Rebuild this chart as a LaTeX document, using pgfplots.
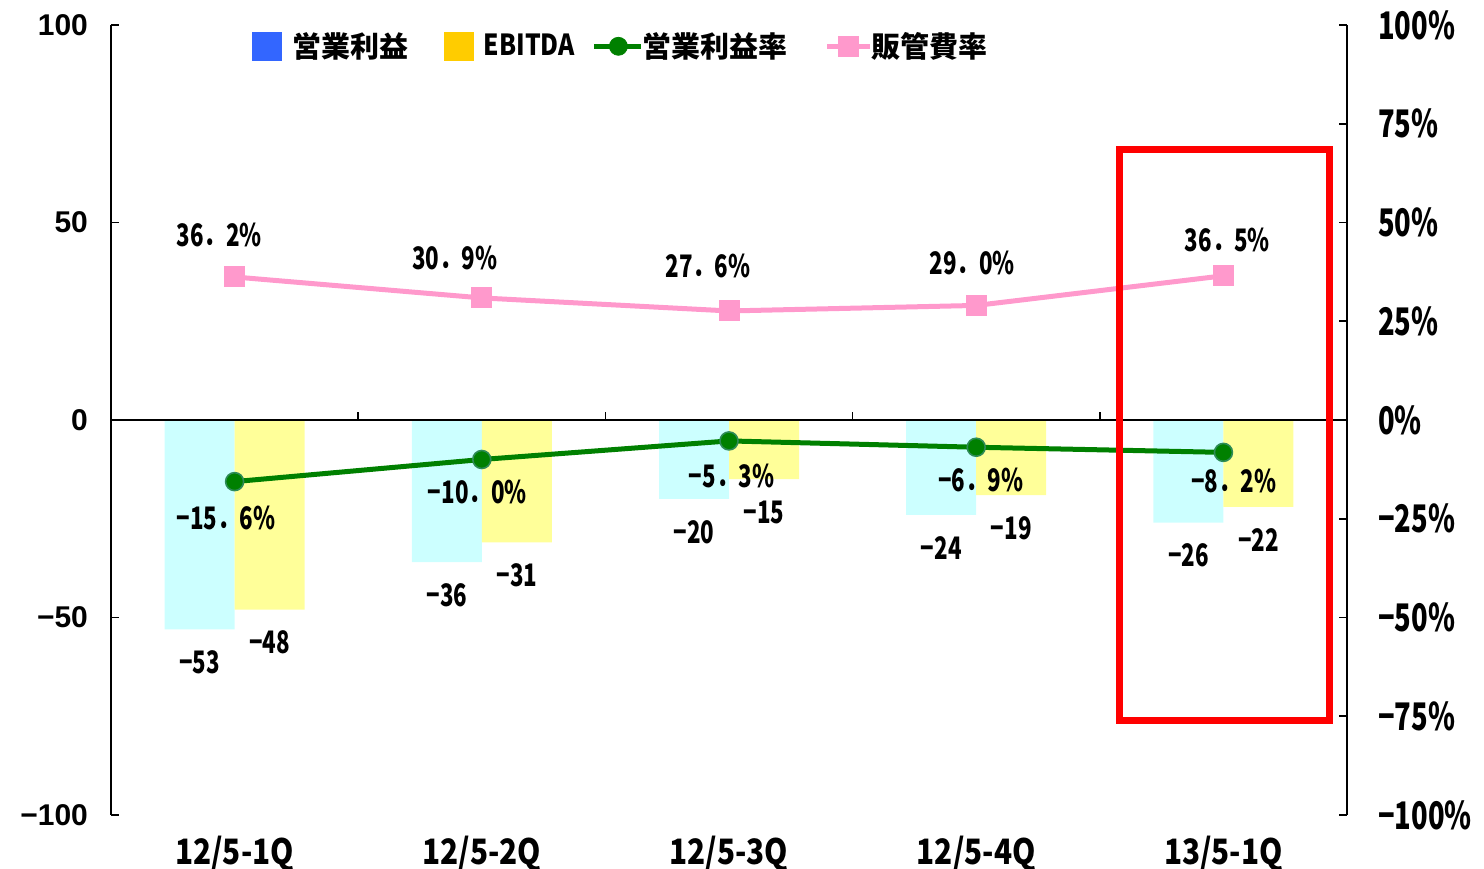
\documentclass[border=0pt]{standalone}
\usepackage{pgfplots}
\pgfplotsset{compat=1.18}
\usepackage{pgfplotstable}
\usepackage{fontspec}
\setmainfont{Noto Sans CJK JP}
\newfontfamily\jp{Noto Sans CJK JP}
\newfontfamily\jpn{Noto Sans CJK JP}[FakeStretch=0.72]
\newfontfamily\jpm{Noto Sans CJK JP}[FakeStretch=0.85]
\newfontfamily\arial{Liberation Sans}
\definecolor{barC}{HTML}{CCFFFF}
\definecolor{barY}{HTML}{FFFF99}
\definecolor{legB}{HTML}{3366FF}
\definecolor{legY}{HTML}{FFCC00}
\definecolor{lineG}{HTML}{008000}
\definecolor{lineGe}{HTML}{2E8B57}
\definecolor{lineP}{HTML}{FF99CC}

\pgfplotstableread{
x op eb lop leb
0 -53 -48 −53 −48
1 -36 -31 −36 −31
2 -20 -15 −20 −15
3 -24 -19 −24 −19
4 -26 -22 −26 −22
}\bars

\pgfplotstableread{
x g lg gdx gdy p lp pdx pdy
0 -15.6 −15．6 -4.25 -18 36.2 36．2 -7.75 21
1 -10.0 −10．0 -2.25 -16 30.9 30．9 -13.5 20
2 -5.3 −5．3 1.25 -17.5 27.6 27．6 -10.5 22.5
3 -6.9 −6．9 2.25 -16.5 29.0 29．0 -2 21
4 -8.2 −8．2 5.25 -14.5 36.5 36．5 2 18
}\rates

\begin{document}
\begin{tikzpicture}
\begin{axis}[name=ax1, scale only axis, width=618pt, height=395pt,
  xmin=-0.5, xmax=4.5, ymin=-100, ymax=100,
  axis y line*=left, axis x line*=bottom, x axis line style={draw=none},
  xtick={0,...,4}, xticklabels={12/5-1Q,12/5-2Q,12/5-3Q,12/5-4Q,13/5-1Q},
  x tick style={draw=none},
  xticklabel style={font=\jpm\bfseries\fontsize{17.5}{17.5}\selectfont, yshift=-3pt},
  ytick={-100,-50,0,50,100}, yticklabels={−100,−50,0,50,100},
  yticklabel style={font=\arial\bfseries\fontsize{15}{15}\selectfont, xshift=-8pt},
  y axis line style={line width=0.8pt},
  y tick style={black, line width=0.8pt}, tick align=inside, major tick length=4pt,
  ybar=0pt, bar width=35pt,
  point meta=explicit symbolic,
  nodes near coords={\pgfplotspointmeta},
  every node near coord/.append style={font=\jpn\bfseries\fontsize{15.5}{15.5}\selectfont, anchor=center, yshift=-16.5pt},
]
\addplot[fill=barC, draw=none] table[x=x, y=op, meta=lop] {\bars};
\addplot[fill=barY, draw=none] table[x=x, y=eb, meta=leb] {\bars};
\draw[black, line width=0.8pt] (axis cs:-0.5,0) -- (axis cs:4.5,0);
\pgfplotsinvokeforeach{0.5,1.5,2.5,3.5}{\draw[black, line width=0.8pt] (axis cs:#1,0) -- ++(0pt,4pt);}
\end{axis}

\begin{axis}[scale only axis, width=618pt, height=395pt,
  xmin=-0.5, xmax=4.5, ymin=-100, ymax=100,
  axis y line*=right, axis x line=none,
  y axis line style={line width=0.8pt},
  ytick={-100,-75,...,100},
  yticklabels={−100\%,−75\%,−50\%,−25\%,0\%,25\%,50\%,75\%,100\%},
  yticklabel style={font=\jpn\bfseries\fontsize{19}{19}\selectfont, xshift=12pt},
  y tick style={black, line width=0.8pt}, tick align=inside, major tick length=4pt,
  legend columns=4,
  legend style={draw=none, fill=none, at={(0.114,0.973)}, anchor=west, inner sep=0pt,
    font=\jp\bfseries\fontsize{14.5}{14.5}\selectfont,
    /tikz/every odd column/.append style={column sep=3pt},
    /tikz/column 2/.style={column sep=16pt},
    /tikz/column 4/.style={column sep=6.5pt},
    /tikz/column 6/.style={column sep=16.5pt}},
]
\addlegendimage{legend image code/.code={\fill[legB] (0pt,-7pt) rectangle (14.5pt,7pt);}}
\addlegendentry{営業利益}
\addlegendimage{legend image code/.code={\fill[legY] (0pt,-7pt) rectangle (14.5pt,7pt);}}
\addlegendentry{{\jpm EBITDA}}
\addlegendimage{legend image code/.code={\draw[lineG, line width=2.5pt] (0pt,0pt) -- (18pt,0pt); \draw[overlay, lineG, line width=2.5pt] (18pt,0pt) -- (23.5pt,0pt); \fill[lineG] (12pt,0pt) circle (4.5pt);}}
\addlegendentry{営業利益率}
\addlegendimage{legend image code/.code={\draw[lineP, line width=2.5pt] (0pt,0pt) -- (16pt,0pt); \draw[overlay, lineP, line width=2.5pt] (16pt,0pt) -- (21.5pt,0pt); \fill[lineP] (5.5pt,-5pt) rectangle (15.5pt,5pt);}}
\addlegendentry{販管費率}

\addplot[forget plot, lineP, line width=2.5pt, mark=square*, mark size=5pt,
  mark options={fill=lineP, draw=lineP, line width=0pt},
  point meta=explicit symbolic,
  visualization depends on={\thisrow{pdx}\as\dx},
  visualization depends on={\thisrow{pdy}\as\dy},
  nodes near coords={\pgfplotspointmeta\%},
  every node near coord/.append style={font=\jpn\bfseries\fontsize{15.5}{15.5}\selectfont, text=black, anchor=center, xshift={\dx pt}, yshift={\dy pt}},
] table[x=x, y=p, meta=lp] {\rates};

\addplot[forget plot, lineG, line width=2.5pt, mark=*, mark size=4.5pt,
  mark options={fill=lineG, draw=lineGe, line width=0.8pt},
  point meta=explicit symbolic,
  visualization depends on={\thisrow{gdx}\as\dx},
  visualization depends on={\thisrow{gdy}\as\dy},
  nodes near coords={\pgfplotspointmeta\%},
  every node near coord/.append style={font=\jpn\bfseries\fontsize{15.5}{15.5}\selectfont, text=black, anchor=center, xshift={\dx pt}, yshift={\dy pt}},
] table[x=x, y=g, meta=lg] {\rates};

\draw[red, line width=3.5pt] (axis cs:3.58,68.4) rectangle (axis cs:4.43,-76.2);
\end{axis}
\pgfresetboundingbox
\path ([shift={(-55.5pt,-27pt)}]ax1.south west) rectangle ([shift={(68.5pt,12.5pt)}]ax1.north east);
\end{tikzpicture}
\end{document}
